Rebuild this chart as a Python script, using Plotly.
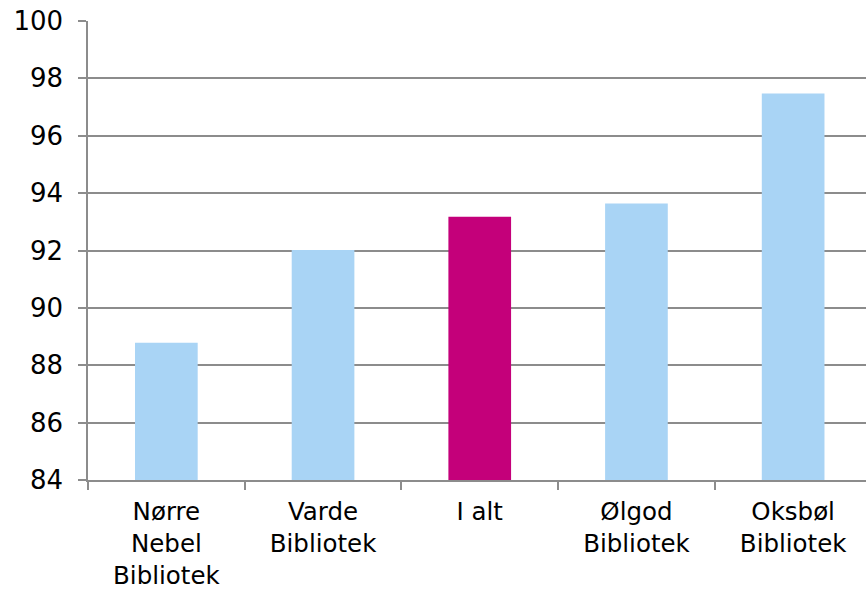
import plotly.graph_objects as go

categories = ["Nørre<br>Nebel<br>Bibliotek", "Varde<br>Bibliotek", "I alt", "Ølgod<br>Bibliotek", "Oksbøl<br>Bibliotek"]
values = [88.78, 92.02, 93.18, 93.64, 97.47]
bar_colors = ["#A9D4F5", "#A9D4F5", "#C4007A", "#A9D4F5", "#A9D4F5"]
y_ticks = [84, 86, 88, 90, 92, 94, 96, 98, 100]

grid = "#8C8C8C"
font = dict(family="DejaVu Sans, Verdana, sans-serif", size=26, color="#000000")

fig = go.Figure(go.Bar(x=categories, y=values, marker=dict(color=bar_colors, line=dict(width=0)), width=0.4))

fig.update_layout(
    width=866, height=591,
    margin=dict(l=88, r=0, t=21, b=111),
    paper_bgcolor="white", plot_bgcolor="white",
    showlegend=False, font=font,
)
fig.update_xaxes(
    type="category", range=[-0.5, 4.465], automargin=False,
    showline=True, linecolor=grid, linewidth=1.5,
    ticks="outside", ticklen=8, tickcolor=grid, tickwidth=1.5,
    tickson="boundaries", showgrid=False, tickangle=0,
    tickfont=dict(size=24.5), ticklabelstandoff=9,
)
fig.update_yaxes(
    range=[84, 100], tickvals=y_ticks, automargin=False,
    showline=True, linecolor=grid, linewidth=1.5,
    ticks="outside", ticklen=8, tickcolor=grid, tickwidth=1.5,
    showgrid=True, gridcolor=grid, gridwidth=1.5,
    zeroline=False, ticklabelstandoff=10,
)

fig.write_html(
    "out.html",
    config={"displayModeBar": False},
    post_script="document.body.style.margin='0';document.body.style.overflow='hidden';",
)
